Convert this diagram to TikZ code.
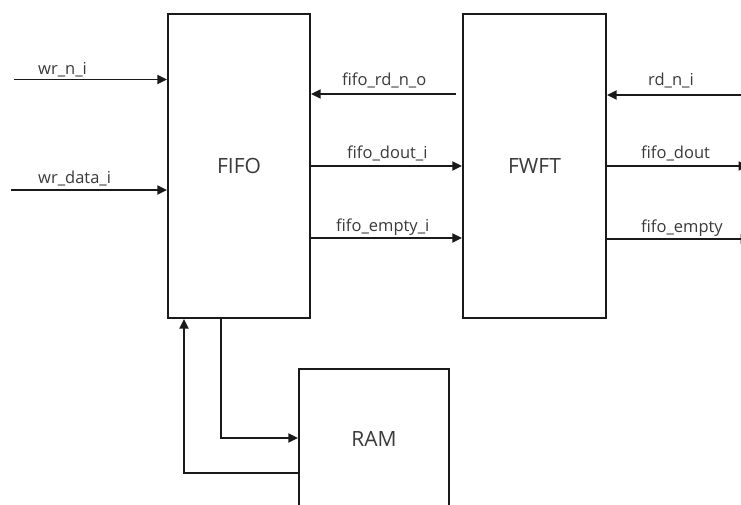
\documentclass[tikz,border=0pt]{standalone}
\usepackage{fontspec}
\setmainfont{Open Sans}
\usetikzlibrary{arrows.meta}
\definecolor{txt}{HTML}{3A3A3A}
\definecolor{ln}{HTML}{1A1A1A}
\begin{document}
\begin{tikzpicture}[x=1pt,y=-1pt,
  blk/.style={draw=ln,line width=2.2pt,fill=white,inner sep=0pt,text=txt,font=\fontsize{21}{25}\selectfont},
  arr/.style={draw=ln,line width=1.9pt,-{Triangle[length=9.5pt,width=9pt]}},
  lbl/.style={anchor=base west,inner sep=0pt,text=txt,font=\fontsize{16.5}{19}\selectfont}]
\useasboundingbox[fill=white] (0,0) rectangle (741,505);
% blocks
\node[blk,minimum width=142pt,minimum height=304pt] (FIFO) at (239,166) {FIFO};
\node[blk,minimum width=143pt,minimum height=304pt] (FWFT) at (534.5,166) {FWFT};
\node[blk,minimum width=150pt,minimum height=140pt] (RAM) at (374,439) {RAM};
% free ends
\coordinate (wrn) at (14,79.5);
\coordinate (wrd) at (11,190);
\coordinate (rdo) at (456,94);
\coordinate (fei) at (400,238);
\coordinate (rdi) at (745,95);
\coordinate (dout) at (748,166);
\coordinate (emp) at (750,239);
\coordinate (ret) at (184,473);
\coordinate (dn) at (221,438);
% connectors
\draw[arr] (wrn) -- (wrn -| FIFO.west);
\draw[arr] (wrd) -- (wrd -| FIFO.west);
\draw[arr] (rdo) -- (rdo -| FIFO.east);
\draw[arr] (FIFO.east) -- (FWFT.west);
\draw[arr] (fei -| FIFO.east) -- (fei -| FWFT.west);
\draw[arr] (rdi) -- (rdi -| FWFT.east);
\draw[arr] (FWFT.east) -- (dout);
\draw[arr] (emp -| FWFT.east) -- (emp);
\draw[arr] (ret -| RAM.west) -- (ret) -- (ret |- FIFO.south);
\draw[arr] (dn |- FIFO.south) -- (dn) -- (dn -| RAM.west);
% labels
\node[lbl] (l1) at (38,75) {wr\_n\_i};
\node[lbl] (l2) at (38,183) {wr\_data\_i};
\node[lbl] (l3) at (342,86) {fifo\_rd\_n\_o};
\node[lbl] (l4) at (347,159) {fifo\_dout\_i};
\node[lbl] (l5) at (336,231) {fifo\_empty\_i};
\node[lbl] (l6) at (648,86) {rd\_n\_i};
\node[lbl] (l7) at (641,159) {fifo\_dout};
\node[lbl] (l8) at (641,232) {fifo\_empty};
\end{tikzpicture}
\end{document}
